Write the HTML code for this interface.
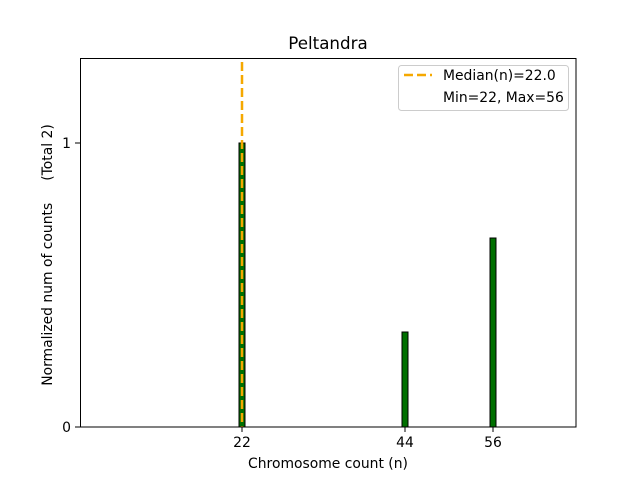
<!DOCTYPE html>
<html><head><style>body{margin:0;background:#fff}</style></head><body>
<svg width="640" height="480" xmlns="http://www.w3.org/2000/svg" font-family="DejaVu Sans, Liberation Sans, sans-serif">
<rect width="640" height="480" fill="#fff"/>
<text x="328" y="49" font-size="16.7" text-anchor="middle">Peltandra</text>
<!-- bars -->
<rect x="239" y="143" width="6" height="284" fill="#007000" stroke="#000" stroke-width="1"/>
<rect x="402" y="332" width="6" height="95" fill="#007000" stroke="#000" stroke-width="1"/>
<rect x="490" y="238" width="6" height="189" fill="#007000" stroke="#000" stroke-width="1"/>
<line x1="242" y1="62" x2="242" y2="427" stroke="#f5a800" stroke-width="2.5" stroke-dasharray="9,4"/>
<rect x="80.5" y="58.5" width="495.5" height="368.5" fill="none" stroke="#000" stroke-width="1"/>
<!-- ticks -->
<g stroke="#000"><line x1="75" y1="427" x2="80" y2="427"/><line x1="75" y1="143" x2="80" y2="143"/>
<line x1="242" y1="427" x2="242" y2="432"/><line x1="405" y1="427" x2="405" y2="432"/><line x1="493" y1="427" x2="493" y2="432"/></g>
<g font-size="13.9"><text x="71" y="432" text-anchor="end">0</text><text x="71" y="148" text-anchor="end">1</text>
<text x="242" y="447" text-anchor="middle">22</text><text x="405" y="447" text-anchor="middle">44</text><text x="493" y="447" text-anchor="middle">56</text>
<text x="328" y="468" text-anchor="middle">Chromosome count (n)</text>
<text transform="translate(52,255) rotate(-90)" text-anchor="middle" xml:space="preserve">Normalized num of counts     (Total 2)</text></g>
<!-- legend -->
<rect x="398.5" y="65.5" width="170" height="45" rx="3" fill="#fff" stroke="#ccc"/>
<line x1="404" y1="75" x2="432" y2="75" stroke="#f5a800" stroke-width="2.5" stroke-dasharray="9,4"/>
<g font-size="13.9"><text x="443" y="80">Median(n)=22.0</text><text x="443" y="102">Min=22, Max=56</text></g>
</svg>
</body></html>
